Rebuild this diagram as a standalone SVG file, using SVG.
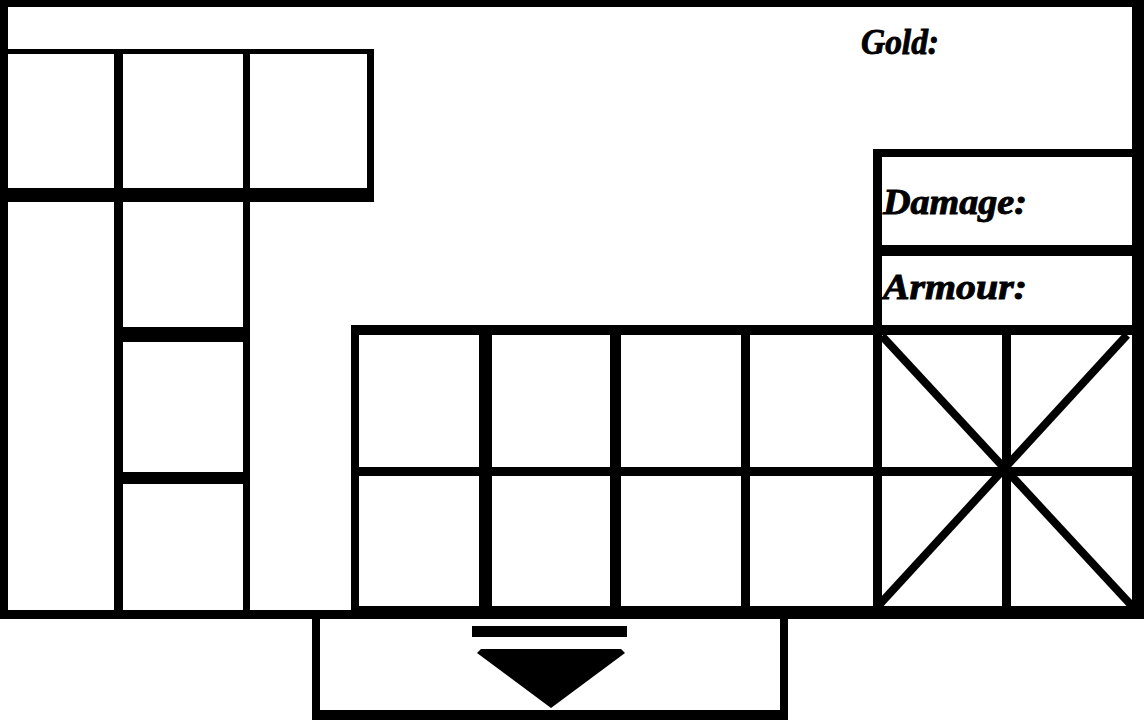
<svg xmlns="http://www.w3.org/2000/svg" width="1144" height="721" viewBox="0 0 1144 721">
<style>
.k{fill:#000}
.lbl{font-family:"Liberation Serif","DejaVu Serif",serif;font-weight:bold;font-style:italic;font-size:35px;fill:#000;stroke:#000;stroke-width:0.9}
.d{stroke:#000;stroke-width:8;fill:none}
</style>
<rect width="1144" height="721" fill="#fff"/>
<g id="frame">
<rect class="k" x="0" y="0" width="1144" height="7"/>
<rect class="k" x="0" y="0" width="8" height="619"/>
<rect class="k" x="1132" y="0" width="12" height="619"/>
<rect class="k" x="0" y="610" width="1144" height="9"/>
</g>
<g id="equipment-slots">
<rect class="k" x="0" y="49" width="374" height="5"/>
<rect class="k" x="367" y="49" width="7" height="153"/>
<rect class="k" x="0" y="188" width="374" height="14"/>
<rect class="k" x="114" y="49" width="9" height="566"/>
<rect class="k" x="243" y="49" width="7" height="566"/>
<rect class="k" x="114" y="327" width="136" height="15"/>
<rect class="k" x="114" y="472" width="136" height="12"/>
</g>
<g id="stats">
<rect class="k" x="873" y="149" width="271" height="8"/>
<rect class="k" x="873" y="149" width="9" height="470"/>
<rect class="k" x="873" y="245" width="271" height="11"/>
<text class="lbl" x="861" y="54" textLength="78" lengthAdjust="spacingAndGlyphs">Gold:</text>
<text class="lbl" x="883" y="214" textLength="144" lengthAdjust="spacingAndGlyphs">Damage:</text>
<text class="lbl" x="883" y="299" textLength="144" lengthAdjust="spacingAndGlyphs">Armour:</text>
</g>
<g id="inventory-grid">
<rect class="k" x="351" y="325" width="793" height="10"/>
<rect class="k" x="351" y="325" width="8" height="294"/>
<rect class="k" x="351" y="467" width="781" height="9"/>
<rect class="k" x="351" y="606" width="793" height="13"/>
<rect class="k" x="479" y="325" width="13" height="294"/>
<rect class="k" x="610" y="325" width="11" height="294"/>
<rect class="k" x="741" y="325" width="9" height="294"/>
<rect class="k" x="1002" y="325" width="9" height="294"/>
</g>
<g id="locked-slots">
<line class="d" x1="882" y1="336" x2="1132" y2="606"/>
<line class="d" x1="1127" y1="335" x2="880" y2="604"/>
</g>
<g id="drop-zone">
<rect class="k" x="312" y="610" width="8" height="110"/>
<rect class="k" x="780" y="610" width="8" height="110"/>
<rect class="k" x="312" y="710" width="476" height="10"/>
<rect class="k" x="472" y="626" width="155" height="11"/>
<polygon class="k" points="477,653 481,649 621,649 625,653 551,708"/>
</g>
</svg>
